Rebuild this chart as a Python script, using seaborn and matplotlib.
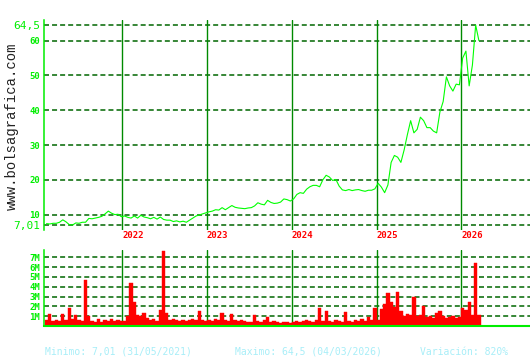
import numpy as np
import pandas as pd
import matplotlib
matplotlib.use("Agg")
import matplotlib.pyplot as plt
import seaborn as sns

# ---------------- data ----------------
start_date = "2021-02-10"          # biweekly samples
price = [7.4, 7.3, 7.5, 7.5, 7.8, 8.5, 7.9, 7.1, 7.01, 7.6,
         7.5, 7.8, 7.8, 8.9, 8.8, 9.0, 9.2, 9.5, 10.2, 11.0,
         10.4, 10.0, 10.1, 9.4, 9.6, 9.2, 9.0, 9.6, 9.0, 9.8,
         9.3, 9.1, 8.8, 9.2, 8.7, 9.3, 8.6, 8.4, 8.4, 8.0,
         8.2, 7.9, 8.1, 7.8, 8.4, 9.0, 9.6, 9.9, 10.2, 10.5,
         10.8, 11.0, 11.4, 11.3, 12.0, 11.4, 12.0, 12.6, 12.1, 11.9,
         11.8, 11.7, 11.9, 12.0, 12.5, 13.4, 13.0, 12.8, 14.1, 13.5,
         13.2, 13.3, 13.6, 14.5, 14.3, 13.9, 14.5, 15.8, 16.3, 16.1,
         17.3, 18.0, 18.4, 18.4, 18.0, 20.0, 21.3, 20.8, 19.8, 20.1,
         18.2, 17.1, 16.9, 17.2, 16.9, 17.1, 17.2, 16.9, 16.7, 17.0,
         17.0, 17.4, 19.0, 17.9, 16.3, 18.5, 25.0, 27.0, 26.5, 25.0,
         28.6, 33.0, 37.0, 33.5, 34.5, 38.0, 37.0, 35.0, 35.0, 34.0,
         33.5, 39.5, 42.5, 49.6, 47.0, 45.5, 47.5, 47.3, 55.0, 57.0,
         47.0, 53.0, 64.5, 60.0]
volume_m = [0.6, 1.25, 0.5, 0.6, 0.5, 1.2, 0.6, 1.85, 0.7, 1.1,
            0.6, 0.5, 4.7, 1.0, 0.5, 0.4, 0.7, 0.4, 0.6, 0.5,
            0.7, 0.5, 0.6, 0.5, 0.5, 1.0, 4.4, 2.4, 1.1, 1.0,
            1.3, 0.8, 0.6, 0.7, 0.5, 1.6, 7.6, 1.3, 0.6, 0.7,
            0.6, 0.5, 0.6, 0.5, 0.6, 0.7, 0.6, 1.5, 0.6, 0.5,
            0.6, 0.5, 0.7, 0.6, 1.3, 0.6, 0.5, 1.25, 0.6, 0.5,
            0.6, 0.5, 0.4, 0.4, 1.1, 0.5, 0.4, 0.6, 0.9, 0.4,
            0.5, 0.4, 0.3, 0.4, 0.4, 0.3, 0.4, 0.5, 0.4, 0.5,
            0.6, 0.5, 0.4, 0.6, 1.85, 0.5, 1.5, 0.5, 0.4, 0.6,
            0.5, 0.4, 1.45, 0.5, 0.4, 0.6, 0.5, 0.7, 0.5, 0.9,
            0.6, 1.8, 0.6, 1.7, 2.2, 3.4, 2.4, 1.9, 3.5, 1.5,
            1.0, 1.2, 1.1, 3.0, 1.0, 1.1, 2.0, 0.9, 1.0, 0.8,
            1.3, 1.5, 1.0, 0.8, 0.9, 1.0, 0.8, 0.9, 1.8, 1.6,
            2.4, 1.1, 6.4, 1.1]
years = [2022, 2023, 2024, 2025, 2026]
price_ticks = [7.01, 10, 20, 30, 40, 50, 60, 64.5]
price_tick_labels = ["7,01", "10", "20", "30", "40", "50", "60", "64,5"]
vol_ticks = [1, 2, 3, 4, 5, 6, 7]
vol_tick_labels = ["1M", "2M", "3M", "4M", "5M", "6M", "7M"]
site = "www.bolsagrafica.com"
stat_texts = ["Minimo: 7,01 (31/05/2021)", "Maximo: 64,5 (04/03/2026)", "Variación: 820%"]

dates = pd.date_range(start_date, periods=len(price), freq="14D")
df = pd.DataFrame({"date": dates, "price": price, "volume": volume_m})

# ---------------- style ----------------
sns.set_theme(style="white")
plt.rcParams["font.family"] = ["DejaVu Sans Mono", "DejaVu Sans"]
plt.rcParams["lines.scale_dashes"] = False

LIME = "#00ee00"
GRID = "#006600"
YEARLINE = "#008a00"
RED = "#ff0000"
CYAN = "#a8eef8"
DASH = (0, (3.6, 2.2))

W, H = 530, 360
fig = plt.figure(figsize=(W / 100, H / 100), dpi=100)
fig.patch.set_facecolor("white")


def frac(x0, y0, x1, y1):
    return [x0 / W, 1 - y1 / H, (x1 - x0) / W, (y1 - y0) / H]


ax = fig.add_axes(frac(44, 20, 530, 230))
axv = fig.add_axes(frac(44, 250, 530, 326))

xmin, xmax = pd.Timestamp("2021-01-30"), pd.Timestamp("2026-10-24")
year_dates = [pd.Timestamp(f"{y}-01-01") for y in years]

# ---------------- price panel ----------------
for t in price_ticks:
    ax.axhline(t, color=GRID, lw=1.1, ls=DASH, zorder=1)
for d in year_dates:
    ax.axvline(d, color=YEARLINE, lw=1.0, zorder=1)
sns.lineplot(data=df, x="date", y="price", ax=ax, color="#00ff00", lw=0.8, zorder=3)
ax.set_xlim(xmin, xmax)
ax.set_ylim(5.57, 65.94)
ax.set_xlabel("")
ax.set_ylabel("")
ax.set_yticks(price_ticks)
ax.set_yticklabels(price_tick_labels)
for lbl, t in zip(ax.get_yticklabels(), price_ticks):
    lbl.set_color(LIME)
    if t in (7.01, 64.5):
        lbl.set_fontsize(8)
    else:
        lbl.set_fontsize(6.5)
        lbl.set_fontweight("bold")
ax.set_xticks(year_dates)
ax.set_xticklabels([str(y) for y in years])
for lbl in ax.get_xticklabels():
    lbl.set_ha("left")
    lbl.set_color(RED)
    lbl.set_fontsize(6.5)
    lbl.set_fontweight("bold")
ax.tick_params(axis="y", length=0, pad=3)
ax.tick_params(axis="x", length=0, pad=1)
for s in ["top", "right", "bottom"]:
    ax.spines[s].set_visible(False)
ax.spines["left"].set_color(LIME)
ax.spines["left"].set_linewidth(1.1)
ax.set_facecolor("none")

# ---------------- volume panel ----------------
for t in vol_ticks:
    axv.axhline(t, color=GRID, lw=1.1, ls=DASH, zorder=1)
for d in year_dates:
    axv.axvline(d, color=YEARLINE, lw=1.0, zorder=1)
axv.bar(df["date"], df["volume"], width=pd.Timedelta(days=14), align="center",
        color=RED, edgecolor=RED, lw=0.3, zorder=2)
axv.set_xlim(xmin, xmax)
axv.set_ylim(0, 7.73)
axv.set_yticks(vol_ticks)
axv.set_yticklabels(vol_tick_labels)
for lbl in axv.get_yticklabels():
    lbl.set_color(LIME)
    lbl.set_fontsize(6.5)
    lbl.set_fontweight("bold")
axv.set_xticks([])
axv.tick_params(axis="y", length=0, pad=3)
for s in ["top", "right"]:
    axv.spines[s].set_visible(False)
axv.spines["left"].set_color(LIME)
axv.spines["left"].set_linewidth(1.1)
axv.spines["bottom"].set_color(LIME)
axv.spines["bottom"].set_linewidth(1.5)
axv.set_facecolor("none")

# ---------------- texts ----------------
fig.text(12 / W, 1 - 126 / H, site, rotation=90, ha="center", va="center",
         fontsize=10, color="#222222", family=["Liberation Mono", "DejaVu Sans Mono"])
for txt, x0 in zip(stat_texts, [45, 235, 420]):
    fig.text(x0 / W, 1 - 352 / H, txt, ha="left", va="center",
             fontsize=7, color=CYAN)

fig.savefig("out.png", dpi=100, facecolor="white")
